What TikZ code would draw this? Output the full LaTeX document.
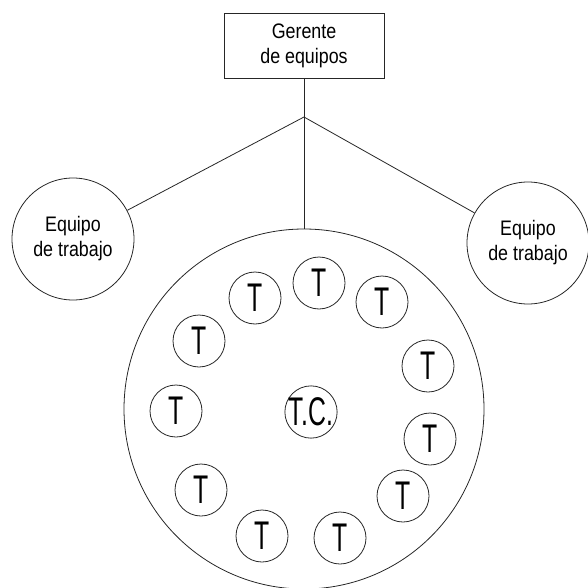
\documentclass[tikz,border=0pt]{standalone}
\usepackage{fontspec}
\setmainfont[FakeStretch=0.85]{Liberation Sans}
\newfontfamily\tfont[FakeStretch=0.62]{Liberation Sans}
\begin{document}
\begin{tikzpicture}[x=1pt,y=-1pt,
  line/.style={draw=black!85, line width=0.8pt},
  mgrbox/.style={line, rectangle, minimum width=160pt, minimum height=65pt, inner sep=0pt, align=center,
    font=\fontsize{21}{25}\selectfont},
  teambox/.style={line, circle, minimum size=122pt, inner sep=0pt, align=center,
    font=\fontsize{21}{25}\selectfont},
  bigbox/.style={line, circle, minimum size=360pt, inner sep=0pt},
  tbox/.style={line, circle, minimum size=52pt, inner sep=0pt, font=\tfont\fontsize{40}{40}\selectfont},
  tcbox/.style={line, circle, minimum size=51pt, inner sep=0pt, font=\tfont\fontsize{40}{40}\selectfont}]
\useasboundingbox (0,0) rectangle (588,588);
\node[mgrbox] (mgr) at (304,45.5) {Gerente\\de equipos};
\node[teambox] (left) at (73,239) {Equipo\\de trabajo};
\node[teambox] (right) at (528,243) {Equipo\\de trabajo};
\node[bigbox] (big) at (304,409) {};
\coordinate (j) at (304,117);
\draw[line] (mgr.south) -- (big.north);
\draw[line] (j) -- (left);
\draw[line] (j) -- (right);
\node[tbox] (t1) at (319,283) {T};
\node[tbox] (t2) at (382,302) {T};
\node[tbox] (t3) at (428,366) {T};
\node[tbox] (t4) at (430,439) {T};
\node[tbox] (t5) at (403,496) {T};
\node[tbox] (t6) at (340,538) {T};
\node[tbox] (t7) at (262,536) {T};
\node[tbox] (t8) at (201,490) {T};
\node[tbox] (t9) at (176,411) {T};
\node[tbox] (t10) at (199,341) {T};
\node[tbox] (t11) at (255,298) {T};
\node[tcbox] (tc) at (311,412) {T.C.};
\end{tikzpicture}
\end{document}
